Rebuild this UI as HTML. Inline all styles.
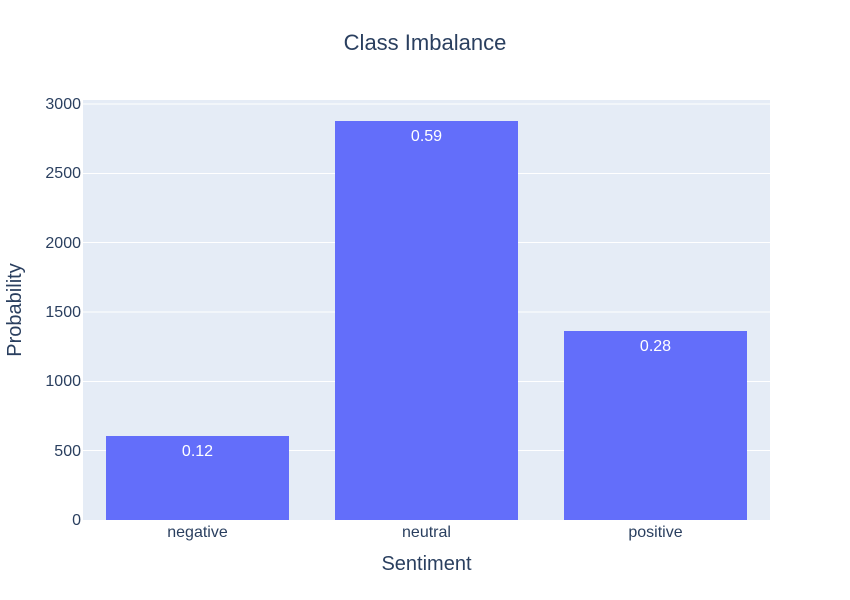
<!DOCTYPE html>
<html><head><meta charset="utf-8"><style>body{margin:0;background:#fff}svg{display:block}text{font-family:"Liberation Sans",Arial,sans-serif}</style></head>
<body>
<svg width="850" height="600" xmlns="http://www.w3.org/2000/svg">
<rect width="850" height="600" fill="#fff"/>
<rect x="83" y="100" width="687" height="420" fill="#E5ECF6"/>
<g stroke="#fff" stroke-width="1">
<line x1="83" x2="770" y1="450.5" y2="450.5"/>
<line x1="83" x2="770" y1="381.5" y2="381.5"/>
<line x1="83" x2="770" y1="312" y2="312"/>
<line x1="83" x2="770" y1="242.5" y2="242.5"/>
<line x1="83" x2="770" y1="173.5" y2="173.5"/>
<line x1="83" x2="770" y1="104" y2="104"/>
</g>
<g fill="#636EFA">
<rect x="106" y="436" width="183" height="84"/>
<rect x="335" y="121" width="183" height="399"/>
<rect x="564" y="331" width="183" height="189"/>
</g>
<g fill="#fff" font-size="16" text-anchor="middle">
<text x="197.5" y="456">0.12</text>
<text x="426.5" y="141">0.59</text>
<text x="655.5" y="351">0.28</text>
</g>
<g fill="#2a3f5f" font-size="16" text-anchor="end">
<text x="81" y="525">0</text>
<text x="81" y="456">500</text>
<text x="81" y="386">1000</text>
<text x="81" y="317">1500</text>
<text x="81" y="248">2000</text>
<text x="81" y="178">2500</text>
<text x="81" y="109">3000</text>
</g>
<g fill="#2a3f5f" font-size="16" text-anchor="middle">
<text x="197.5" y="537">negative</text>
<text x="426.5" y="537">neutral</text>
<text x="655.5" y="537">positive</text>
</g>
<text x="426.5" y="570" fill="#2a3f5f" font-size="20" text-anchor="middle">Sentiment</text>
<text transform="translate(21,310) rotate(-90)" fill="#2a3f5f" font-size="20" text-anchor="middle">Probability</text>
<text x="425" y="50" fill="#2a3f5f" font-size="22" text-anchor="middle">Class Imbalance</text>
</svg>
</body></html>
